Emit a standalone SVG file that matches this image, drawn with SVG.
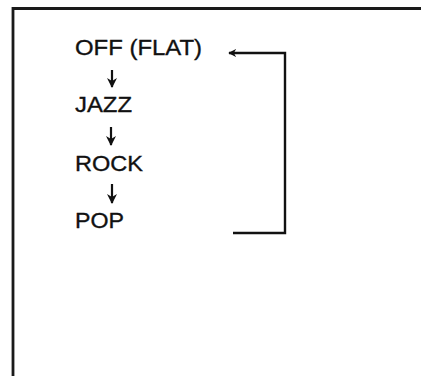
<svg xmlns="http://www.w3.org/2000/svg" width="421" height="376" viewBox="0 0 421 376">
<style>
.lbl{font-family:"Liberation Sans",Arial,sans-serif;font-size:22.5px;fill:#111;stroke:#111;stroke-width:0.35}
.conn{fill:none;stroke:#111;stroke-width:2.4}
.step{fill:none;stroke:#111;stroke-width:2.2}
</style>
<defs>
<marker id="ah" viewBox="0 0 10 10" refX="9" refY="5" markerWidth="8" markerHeight="8" orient="auto" markerUnits="userSpaceOnUse">
<path d="M0,0 L10,5 L0,10 L3,5 z" fill="#111"/>
</marker>
<marker id="ahs" viewBox="0 0 10 10" refX="9" refY="5" markerWidth="10" markerHeight="10" orient="auto" markerUnits="userSpaceOnUse">
<path d="M0,0 L10,5 L0,10 L3,5 z" fill="#111"/>
</marker>
</defs>
<g id="frame">
<path d="M13,377 L13,8.5 L422,8.5" fill="none" stroke="#1a1a1a" stroke-width="2.8"/>
</g>
<g id="off"><text class="lbl" x="75" y="55" textLength="127" lengthAdjust="spacingAndGlyphs">OFF (FLAT)</text></g>
<g id="jazz"><text class="lbl" x="75" y="112" textLength="57" lengthAdjust="spacingAndGlyphs">JAZZ</text></g>
<g id="rock"><text class="lbl" x="75" y="171" textLength="68" lengthAdjust="spacingAndGlyphs">ROCK</text></g>
<g id="pop"><text class="lbl" x="75" y="228" textLength="49" lengthAdjust="spacingAndGlyphs">POP</text></g>
<g id="connectors">
<line class="step" x1="112" y1="70" x2="112" y2="87" marker-end="url(#ahs)"/>
<line class="step" x1="111" y1="127" x2="111" y2="145" marker-end="url(#ahs)"/>
<line class="step" x1="112" y1="184" x2="112" y2="203" marker-end="url(#ahs)"/>
<path class="conn" d="M233,233 L285,233 L285,53 L229,53" marker-end="url(#ah)"/>
</g>
</svg>
